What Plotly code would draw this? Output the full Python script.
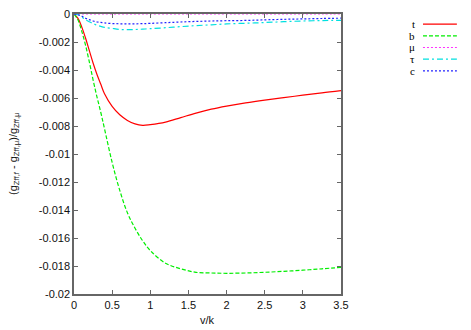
import plotly.graph_objects as go

# v/k sample points shared by all curves
v = [0, 0.05, 0.1, 0.15, 0.2, 0.25, 0.3, 0.35, 0.4, 0.5, 0.6, 0.7, 0.8, 0.9,
     1.0, 1.2, 1.4, 1.6, 1.8, 2.0, 2.25, 2.5, 2.75, 3.0, 3.25, 3.5]

t_vals = [0, -0.0003, -0.0009, -0.0017, -0.0026, -0.0035, -0.0043, -0.0050, -0.0057,
          -0.0066, -0.0072, -0.0076, -0.00785, -0.00795, -0.0079, -0.00772, -0.0074,
          -0.00708, -0.0068, -0.00658, -0.00635, -0.00615, -0.00597, -0.0058, -0.00563, -0.00548]
b_vals = [0, -0.0004, -0.0012, -0.0022, -0.0034, -0.0047, -0.0059, -0.0070, -0.0082,
          -0.0106, -0.0126, -0.0142, -0.0153, -0.0162, -0.0169, -0.0178, -0.0182,
          -0.01845, -0.0185, -0.01852, -0.0185, -0.01845, -0.01838, -0.0183, -0.0182, -0.0181]
mu_vals = [0] * 26
tau_vals = [0, -0.00005, -0.0002, -0.0004, -0.00055, -0.00068, -0.0008, -0.00088, -0.00095,
            -0.00103, -0.0011, -0.00112, -0.00111, -0.00108, -0.00105, -0.00098, -0.0009,
            -0.00083, -0.00077, -0.00071, -0.00066, -0.00061, -0.00055, -0.0005, -0.00047, -0.00045]
c_vals = [0, -0.00005, -0.00015, -0.0003, -0.0004, -0.0005, -0.00057, -0.0006, -0.00064,
          -0.00068, -0.0007, -0.0007, -0.0007, -0.00069, -0.00067, -0.00062, -0.00057,
          -0.00053, -0.0005, -0.00048, -0.00046, -0.00042, -0.00038, -0.00035, -0.00032, -0.0003]

series_names = ["t", "b", "μ", "τ", "c"]
series_vals = [t_vals, b_vals, mu_vals, tau_vals, c_vals]
colors = ["#ff0000", "#00ee00", "#ff33ff", "#00e0e0", "#2222ff"]
dashes = ["solid", "4px,2px", "2px,2px", "6px,3px,2px,3px", "2px,2px"]

x_ticks = [0, 0.5, 1, 1.5, 2, 2.5, 3, 3.5]
x_ticktext = ["0", "0.5", "1", "1.5", "2", "2.5", "3", "3.5"]
y_ticks = [0, -0.002, -0.004, -0.006, -0.008, -0.01, -0.012, -0.014, -0.016, -0.018, -0.02]
y_ticktext = ["0", "-0.002", "-0.004", "-0.006", "-0.008", "-0.01", "-0.012",
              "-0.014", "-0.016", "-0.018", "-0.02"]

label_font = dict(family="Liberation Sans", size=11, color="#111")

fig = go.Figure()
for name, vals, col, dash in zip(series_names, series_vals, colors, dashes):
    fig.add_trace(go.Scatter(x=v, y=vals, mode="lines", name=name, showlegend=False,
                             line=dict(color=col, width=1.2, dash=dash, shape="spline")))

# gnuplot-style key: label on the left, line sample on the right
key_top = 0.964
key_step = 0.0418
for i, (name, col, dash) in enumerate(zip(series_names, colors, dashes)):
    yk = key_top - i * key_step
    fig.add_shape(type="line", xref="paper", yref="paper", x0=1.307, x1=1.434, y0=yk, y1=yk,
                  line=dict(color=col, width=1.2, dash=dash))
    fig.add_annotation(xref="paper", yref="paper", x=1.285, y=yk, text=name, showarrow=False,
                       xanchor="right", yanchor="middle",
                       font=dict(family="Liberation Serif", size=11, color="#000"))

# axis titles placed like gnuplot's
fig.add_annotation(xref="paper", yref="paper", x=0.5, y=-0.093, text="v/k", showarrow=False,
                   xanchor="center", yanchor="middle", font=label_font)
fig.add_annotation(xref="paper", yref="paper", x=-0.225, y=0.5, textangle=-90,
                   text="(g<sub>Zff,f</sub> - g<sub>Zff,μ</sub>)/g<sub>Zff,μ</sub>",
                   showarrow=False, xanchor="center", yanchor="middle", font=label_font)

axis_common = dict(showline=True, linecolor="#666", linewidth=1.5, mirror="ticks",
                   ticks="inside", ticklen=4, tickcolor="#666", showgrid=False,
                   zeroline=False, automargin=False, ticklabeloverflow="allow",
                   tickfont=label_font)

# the page body adds an 8px margin, so the figure is sized to fit the window
fig.update_layout(
    width=463, height=322,
    margin=dict(l=66, r=130, t=6, b=36),
    plot_bgcolor="white", paper_bgcolor="white",
    xaxis=dict(range=[0, 3.5], tickvals=x_ticks, ticktext=x_ticktext, **axis_common),
    yaxis=dict(range=[-0.02, 0], tickvals=y_ticks, ticktext=y_ticktext, **axis_common),
)

fig.write_html("out.html")
